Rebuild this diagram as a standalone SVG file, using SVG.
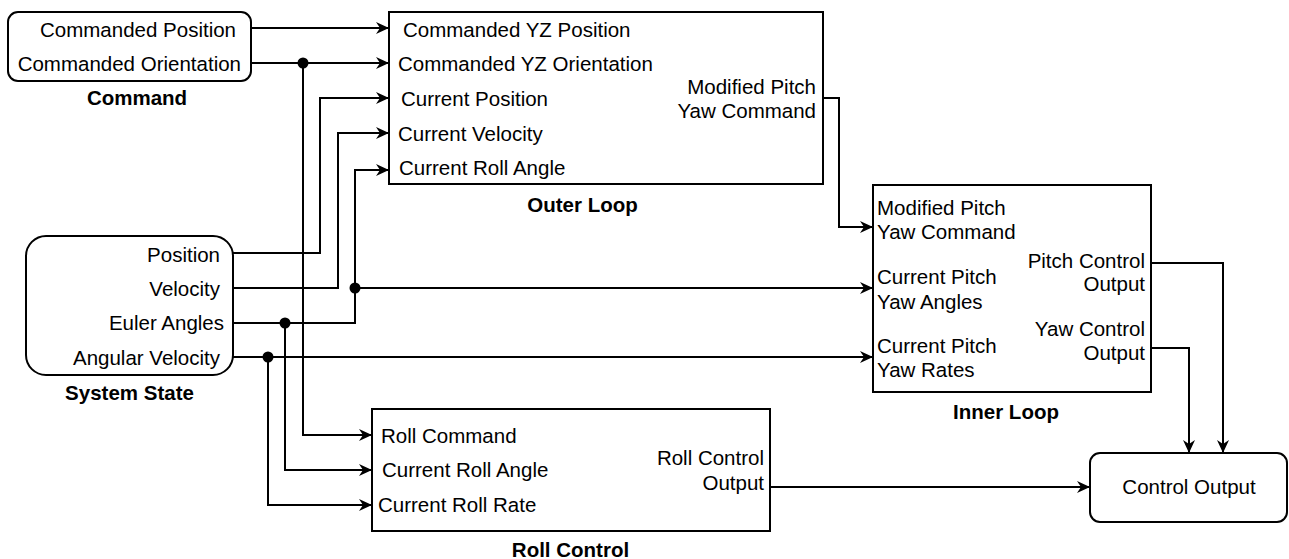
<svg xmlns="http://www.w3.org/2000/svg" width="1289" height="559" viewBox="0 0 1289 559">
  <defs>
    <marker id="arrow" markerUnits="userSpaceOnUse" markerWidth="14" markerHeight="12" refX="13" refY="6" orient="auto">
      <path d="M0,0 L13,6 L0,12 L4,6 Z" fill="#000"/>
    </marker>
    <style>
      .box { fill: #fff; stroke: #000; stroke-width: 2; }
      .t { font-family: "Liberation Sans", Arial, sans-serif; font-size: 20.5px; fill: #000; }
      .b { font-weight: bold; text-anchor: middle; }
      .r { text-anchor: end; }
      .m { text-anchor: middle; }
      .wire { fill: none; stroke: #000; stroke-width: 2; }
      .arr { marker-end: url(#arrow); }
      .dot { fill: #000; }
    </style>
  </defs>
  <rect width="1289" height="559" fill="#fff"/>

  <!-- Command block -->
  <g id="command">
    <rect class="box" x="8" y="12" width="243" height="69" rx="10"/>
    <text class="t r" x="236" y="36.5">Commanded Position</text>
    <text class="t r" x="241" y="70.5">Commanded Orientation</text>
    <text class="t b" x="137" y="105">Command</text>
  </g>

  <!-- Outer loop controller -->
  <g id="outer-loop">
    <rect class="box" x="389" y="12" width="434" height="172"/>
    <text class="t" x="403" y="36.5">Commanded YZ Position</text>
    <text class="t" x="398" y="71">Commanded YZ Orientation</text>
    <text class="t" x="401" y="106">Current Position</text>
    <text class="t" x="398" y="140.5">Current Velocity</text>
    <text class="t" x="399" y="175">Current Roll Angle</text>
    <text class="t r" x="816" y="93.5">Modified Pitch</text>
    <text class="t r" x="816" y="117.5">Yaw Command</text>
    <text class="t b" x="582.5" y="212">Outer Loop</text>
  </g>

  <!-- System state block -->
  <g id="system-state">
    <rect class="box" x="26" y="236" width="207" height="139" rx="20"/>
    <text class="t r" x="220" y="261.5">Position</text>
    <text class="t r" x="220" y="296">Velocity</text>
    <text class="t r" x="224" y="330">Euler Angles</text>
    <text class="t r" x="220" y="365">Angular Velocity</text>
    <text class="t b" x="129.5" y="400">System State</text>
  </g>

  <!-- Inner loop controller -->
  <g id="inner-loop">
    <rect class="box" x="873" y="185" width="278" height="207"/>
    <text class="t" x="877" y="214.5">Modified Pitch</text>
    <text class="t" x="877" y="239">Yaw Command</text>
    <text class="t" x="877" y="284">Current Pitch</text>
    <text class="t" x="877" y="308.5">Yaw Angles</text>
    <text class="t" x="877" y="352.5">Current Pitch</text>
    <text class="t" x="877" y="377">Yaw Rates</text>
    <text class="t r" x="1145" y="267.5">Pitch Control</text>
    <text class="t r" x="1145" y="291">Output</text>
    <text class="t r" x="1145" y="336">Yaw Control</text>
    <text class="t r" x="1145" y="360">Output</text>
    <text class="t b" x="1006" y="419">Inner Loop</text>
  </g>

  <!-- Roll controller -->
  <g id="roll-control">
    <rect class="box" x="372" y="409" width="398" height="122"/>
    <text class="t" x="381" y="443">Roll Command</text>
    <text class="t" x="382" y="477">Current Roll Angle</text>
    <text class="t" x="378" y="512">Current Roll Rate</text>
    <text class="t r" x="764" y="465">Roll Control</text>
    <text class="t r" x="764" y="490">Output</text>
    <text class="t b" x="570.5" y="557">Roll Control</text>
  </g>

  <!-- Combined output -->
  <g id="control-output">
    <rect class="box" x="1090" y="453" width="197" height="69" rx="10"/>
    <text class="t m" x="1189" y="494">Control Output</text>
  </g>

  <!-- Signal connections -->
  <g id="connectors">
    <path class="wire arr" d="M251,28 H389"/>
    <path class="wire arr" d="M251,63 H389"/>
    <path class="wire arr" d="M303,63 V435 H372"/>
    <path class="wire arr" d="M233,253 H320 V98 H389"/>
    <path class="wire arr" d="M233,288 H338 V133 H389"/>
    <path class="wire arr" d="M233,323 H355 V170 H389"/>
    <path class="wire arr" d="M355,288 H873"/>
    <path class="wire arr" d="M285,323 V470 H372"/>
    <path class="wire arr" d="M233,357 H873"/>
    <path class="wire arr" d="M268,357 V505 H372"/>
    <path class="wire arr" d="M823,98 H839 V227 H873"/>
    <path class="wire arr" d="M1151,263 H1223 V453"/>
    <path class="wire arr" d="M1151,348 H1189 V453"/>
    <path class="wire arr" d="M770,487 H1090"/>
    <circle class="dot" cx="303" cy="63" r="5.5"/>
    <circle class="dot" cx="355" cy="288" r="5.5"/>
    <circle class="dot" cx="285" cy="323" r="5.5"/>
    <circle class="dot" cx="268" cy="357" r="5.5"/>
  </g>
</svg>
